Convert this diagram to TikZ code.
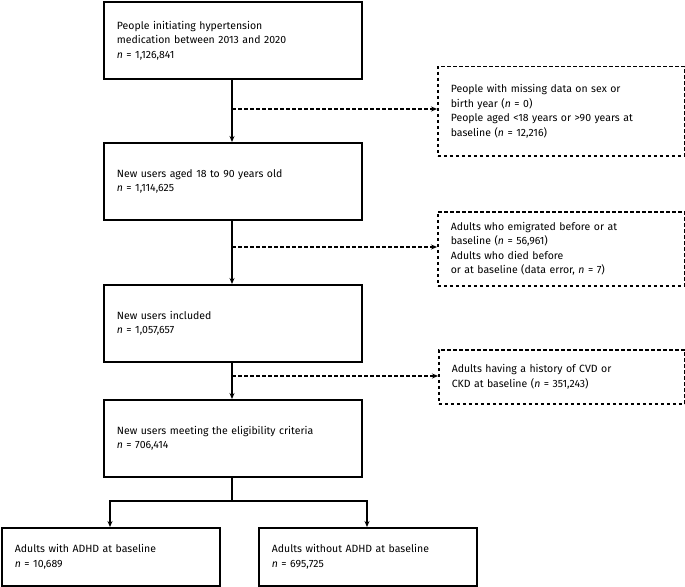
\documentclass[tikz,border=0pt]{standalone}
\usepackage{fontspec}
\setmainfont{Fira Sans}
\usetikzlibrary{arrows.meta}
\begin{document}
\begin{tikzpicture}[x=1pt,y=-1pt,
  box/.style={draw,line width=1.8pt,anchor=north west,align=left,inner xsep=13pt,inner ysep=0pt,font=\fontsize{10.5}{14.5}\selectfont},
  dbox/.style={box,line width=1.5pt,dash pattern=on 3.5pt off 2.5pt},
  conn/.style={line width=1.3pt,-{Stealth[length=6pt,width=5pt]}},
  dconn/.style={conn,dash pattern=on 3.5pt off 2.5pt}]
\useasboundingbox (0,0) rectangle (685,586);
\node[box,minimum width=258pt,minimum height=77pt,text width=232pt] (b1) at (103,1) {People initiating hypertension\\medication between 2013 and 2020\\\textit{n} = 1,126,841};
\node[box,minimum width=258pt,minimum height=77pt,text width=232pt] (b2) at (103,142) {New users aged 18 to 90 years old\\\textit{n} = 1,114,625};
\node[box,minimum width=258pt,minimum height=77pt,text width=232pt] (b3) at (103,284) {New users included\\\textit{n} = 1,057,657};
\node[box,minimum width=258pt,minimum height=77pt,text width=232pt] (b4) at (103,399) {New users meeting the eligibility criteria\\\textit{n} = 706,414};
\node[box,minimum width=218pt,minimum height=58pt,text width=192pt] (b5) at (1,527) {Adults with ADHD at baseline\\\textit{n} = 10,689};
\node[box,minimum width=218pt,minimum height=58pt,text width=192pt] (b6) at (258,527) {Adults without ADHD at baseline\\\textit{n} = 695,725};
\node[dbox,minimum width=247pt,minimum height=89pt,text width=221pt] (d1) at (437,66) {People with missing data on sex or\\birth year (\textit{n} = 0)\\People aged <18 years or >90 years at\\baseline (\textit{n} = 12,216)};
\node[dbox,minimum width=247pt,minimum height=74pt,text width=221pt] (d2) at (437,211) {Adults who emigrated before or at\\baseline (\textit{n} = 56,961)\\Adults who died before\\or at baseline (data error, \textit{n} = 7)};
\node[dbox,minimum width=246pt,minimum height=54pt,text width=220pt] (d3) at (438,349) {Adults having a history of CVD or\\CKD at baseline (\textit{n} = 351,243)};
\coordinate (j1) at (232,109);
\coordinate (j2) at (232,247);
\coordinate (j3) at (232,376);
\coordinate (j4) at (232,501);
\draw[conn] (b1.south -| j1) -- (b2.north -| j1);
\draw[conn] (b2.south -| j1) -- (b3.north -| j1);
\draw[conn] (b3.south -| j1) -- (b4.north -| j1);
\draw[dconn] (j1) -- (j1 -| d1.west);
\draw[dconn] (j2) -- (j2 -| d2.west);
\draw[dconn] (j3) -- (j3 -| d3.west);
\draw[line width=1.3pt] (b4.south -| j4) -- (j4);
\draw[conn] (j4) -- (110,501) -- (b5.north -| 110,0);
\draw[conn] (j4) -- (367,501) -- (b6.north -| 367,0);
\end{tikzpicture}
\end{document}
